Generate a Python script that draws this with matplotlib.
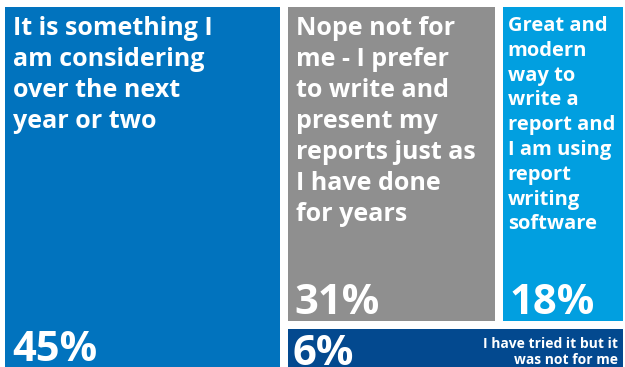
import matplotlib.pyplot as plt
from matplotlib.patches import Rectangle

# survey answers and their shares (%)
answers = [
    "It is something I\nam considering\nover the next\nyear or two",
    "Nope not for\nme - I prefer\nto write and\npresent my\nreports just as\nI have done\nfor years",
    "Great and\nmodern\nway to\nwrite a\nreport and\nI am using\nreport\nwriting\nsoftware",
    "I have tried it but it\nwas not for me",
]
shares = [45, 31, 18, 6]
colors = ["#0173BE", "#8F8F8F", "#019FE0", "#03498F"]

FONT = ["Open Sans", "DejaVu Sans"]
W_PX, H_PX = 625, 367
X0, Y0, X1, Y1 = 5, 7, 623, 368
GAP = 8


def treemap_rects(vals):
    """First item takes a full-height column, the rest fill the right side:
    two items on top side by side, the last one as a strip underneath."""
    total = sum(vals)
    w = X1 - X0
    h = Y1 - Y0
    col_w = (w - GAP) * vals[0] / total
    rects = [(X0, Y0, col_w, h)]
    rx = X0 + col_w + GAP
    rw = X1 - rx
    top = vals[1] + vals[2]
    top_h = (h - GAP) * top / (top + vals[3])
    a_w = (rw - GAP) * vals[1] / top
    rects.append((rx, Y0, a_w, top_h))
    rects.append((rx + a_w + GAP, Y0, rw - a_w - GAP, top_h))
    rects.append((rx, Y0 + top_h + GAP, rw, h - top_h - GAP))
    return rects


fig = plt.figure(figsize=(W_PX / 100, H_PX / 100), dpi=100)
ax = fig.add_axes([0, 0, 1, 1])
ax.set_xlim(0, W_PX)
ax.set_ylim(H_PX, 0)
ax.axis("off")

rects = treemap_rects(shares)
label_size = [18, 18, 14.5, 10]
for i, ((x, y, w, h), txt, val, c) in enumerate(zip(rects, answers, shares, colors)):
    ax.add_patch(Rectangle((x, y), w, h, facecolor=c, edgecolor="none"))
    pct = f"{val}%"
    if i < 3:
        pad = 8 if i < 2 else 5
        ax.text(x + pad, y + 9, txt, color="white", fontsize=label_size[i],
                fontweight="bold", family=FONT, va="top", ha="left",
                linespacing=1.32)
        ax.text(x + 7, y + h - 7, pct, color="white", fontsize=30,
                fontweight="bold", family=FONT, va="baseline", ha="left")
    else:
        ax.text(x + w - 5, y + 8, txt, color="white", fontsize=label_size[i],
                fontweight="bold", family=FONT, va="top", ha="right",
                multialignment="right", linespacing=1.1)
        ax.text(x + 5, y + h - 3, pct, color="white", fontsize=30,
                fontweight="bold", family=FONT, va="baseline", ha="left")

fig.savefig("out.png", dpi=100, facecolor="white")
